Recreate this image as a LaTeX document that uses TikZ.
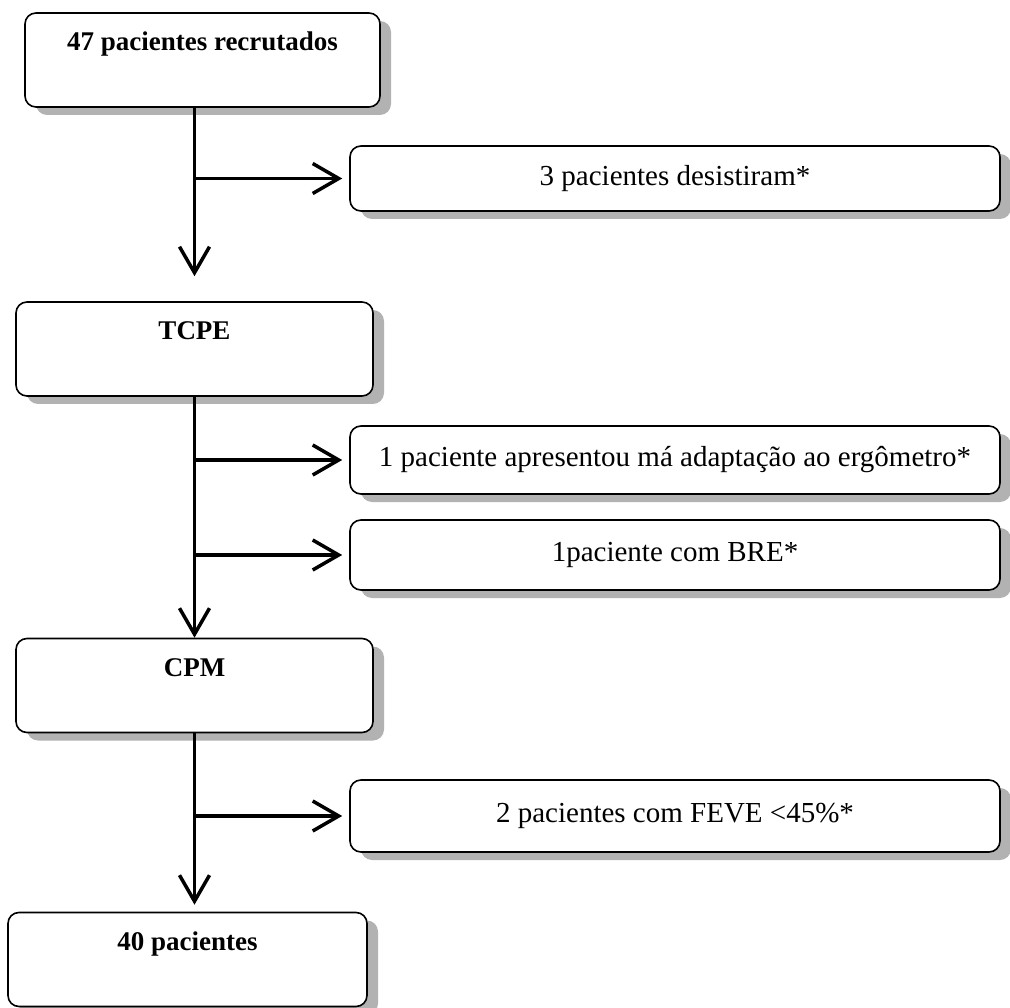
\documentclass[tikz,border=0pt]{standalone}
\usepackage{fontspec}
\setmainfont{Liberation Serif}
\usetikzlibrary{arrows.meta,shadows}
\tikzset{
  boxshadow/.style={general shadow={fill=black!30, shadow xshift=11pt, shadow yshift=-8pt}},
  bigbox/.style={draw, line width=1.6pt, rounded corners=11pt, fill=white, boxshadow,
     inner xsep=0pt, inner ysep=0pt, text height=38pt, text depth=56pt,
     font=\fontsize{27pt}{32pt}\selectfont\bfseries},
  smallbox/.style={draw, line width=1.6pt, rounded corners=11pt, fill=white, boxshadow,
     minimum width=650pt, inner sep=0pt, align=center,
     font=\fontsize{29pt}{34pt}\selectfont},
  arr/.style={line width=3.5pt, -{Straight Barb[length=26pt,width=30pt]}},
  trunk/.style={line width=3.5pt},
}
\begin{document}
\begin{tikzpicture}[x=1pt, y={(0pt,-1pt)}]
\useasboundingbox (0,0) rectangle (1010,1008);
% main boxes
\node[bigbox, minimum width=355pt] (n1) at (202.5,60) {47 pacientes recrutados};
\node[bigbox, minimum width=357pt] (tcpe) at (194.5,349) {TCPE};
\node[bigbox, minimum width=357pt] (cpm) at (194.5,685.5) {CPM};
\node[bigbox, minimum width=359pt] (n40) at (187.5,959.5) {40 pacientes};
% side boxes
\node[smallbox, minimum height=65pt] (s1) at (675,178.5) {3 pacientes desistiram*};
\node[smallbox, minimum height=68pt] (s2) at (675,460) {1 paciente apresentou má adaptação ao ergômetro*};
\node[smallbox, minimum height=70pt] (s3) at (675,555) {1paciente com BRE*};
\node[smallbox, minimum height=72pt] (s4) at (675,816) {2 pacientes com FEVE <45\%*};
% trunk arrows
\draw[arr, shorten >=25pt] (n1.south -| tcpe.north) -- (tcpe.north);
\draw[arr] (tcpe.south) -- (cpm.north);
\draw[arr, shorten >=7pt] (cpm.south) -- (n40.north -| cpm.south);
% branch arrows
\draw[arr, shorten >=7pt, shorten <=1pt] (s1.west -| tcpe.north) -- (s1.west);
\draw[arr, shorten >=7pt, shorten <=1pt] (s2.west -| tcpe.north) -- (s2.west);
\draw[arr, shorten >=7pt, shorten <=1pt] (s3.west -| tcpe.north) -- (s3.west);
\draw[arr, shorten >=7pt, shorten <=1pt] (s4.west -| tcpe.north) -- (s4.west);
\end{tikzpicture}
\end{document}
